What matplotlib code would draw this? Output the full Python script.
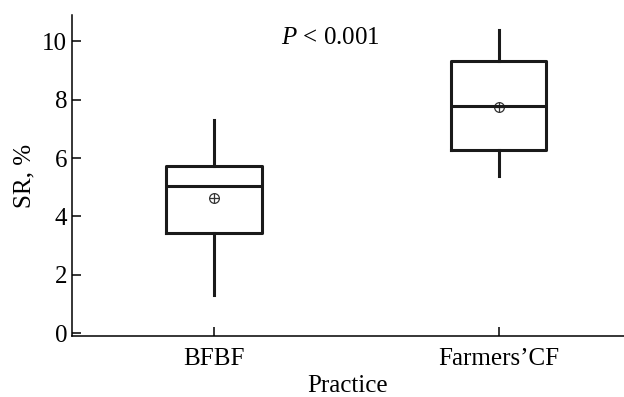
import matplotlib
matplotlib.use("Agg")
import matplotlib.pyplot as plt

# data
groups = ["BFBF", "Farmers\u2019CF"]
whisker_low = [1.3, 5.4]
q1 = [3.42, 6.27]
median = [5.03, 7.77]
q3 = [5.72, 9.32]
whisker_high = [7.29, 10.38]
means = [4.62, 7.75]

plt.rcParams["font.family"] = ["Liberation Serif", "DejaVu Serif"]
plt.rcParams["font.size"] = 18
plt.rcParams["mathtext.fontset"] = "custom"
plt.rcParams["mathtext.rm"] = "Liberation Serif"
plt.rcParams["mathtext.it"] = "Liberation Serif:italic"

fig = plt.figure(figsize=(6.24, 3.97), dpi=100)
ax = fig.add_axes([0.1154, 0.1537, 0.8846, 0.8083])

stats = []
for i, name in enumerate(groups):
    stats.append({"label": name, "whislo": whisker_low[i], "q1": q1[i],
                  "med": median[i], "q3": q3[i], "whishi": whisker_high[i],
                  "fliers": []})

positions = list(range(len(groups)))
lw = 2.2
ax.bxp(stats, positions=positions, widths=0.335, showcaps=False,
       boxprops=dict(color="#1a1a1a", linewidth=lw),
       whiskerprops=dict(color="#1a1a1a", linewidth=lw),
       medianprops=dict(color="#1a1a1a", linewidth=lw))

# mean marker: circled plus
ax.plot(positions, means, linestyle="none", marker="o", markersize=7,
        markerfacecolor="none", markeredgecolor="#333333", markeredgewidth=0.9)
ax.plot(positions, means, linestyle="none", marker="+", markersize=7,
        markeredgecolor="#333333", markeredgewidth=0.9)

ax.set_xlim(-0.498, 1.44)
ax.set_ylim(-0.1, 10.9)
ax.set_yticks([0, 2, 4, 6, 8, 10])
ax.set_xticks(positions)
ax.set_xticklabels(groups)

for s in ["top", "right"]:
    ax.spines[s].set_visible(False)
for s in ["left", "bottom"]:
    ax.spines[s].set_linewidth(1.1)

ax.tick_params(axis="both", direction="in", length=6.5, width=1.1, labelsize=18)
ax.tick_params(axis="x", pad=9)

ax.set_ylabel("SR, %", fontsize=18, labelpad=5)
ax.set_xlabel("Practice", fontsize=18, labelpad=3)

ax.text(0.235, 10.1, "$\\mathit{P}$ < 0.001", fontsize=18, ha="left", va="center")

fig.savefig("out.png", dpi=100)
